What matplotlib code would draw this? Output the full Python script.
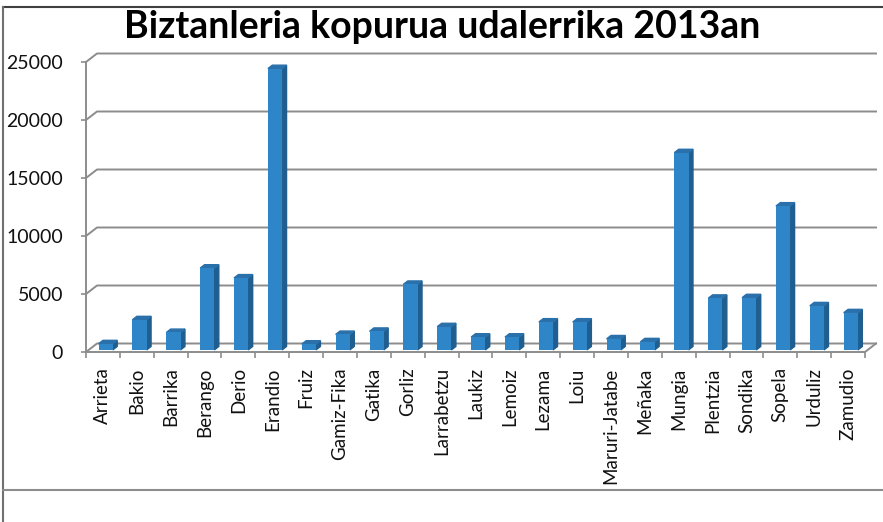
import matplotlib
matplotlib.use("Agg")
import matplotlib.pyplot as plt
from matplotlib.patches import Polygon
from matplotlib.lines import Line2D

# population per municipality, 2013
towns = ["Arrieta", "Bakio", "Barrika", "Berango", "Derio", "Erandio", "Fruiz",
         "Gamiz-Fika", "Gatika", "Gorliz", "Larrabetzu", "Laukiz", "Lemoiz",
         "Lezama", "Loiu", "Maruri-Jatabe", "Meñaka", "Mungia", "Plentzia",
         "Sondika", "Sopela", "Urduliz", "Zamudio"]
population = [530, 2600, 1500, 7050, 6200, 24250, 500,
              1330, 1600, 5650, 2000, 1100, 1100,
              2400, 2400, 950, 700, 17000, 4450,
              4500, 12400, 3800, 3200]
yticks = [0, 5000, 10000, 15000, 20000, 25000]

title = "Biztanleria kopurua udalerrika 2013an"
font = "Lato"

front_col = "#2E86C8"
side_col = "#1F5E8F"
top_col = "#2A70AA"
grid_col = "#8C8C8C"

W, H = 883, 522
fig = plt.figure(figsize=(W / 100, H / 100), dpi=100)

# plot area in pixels (front plane)
left, right, top, bottom = 86, 865, 62, 352
ax = fig.add_axes([left / W, 1 - bottom / H, (right - left) / W, (bottom - top) / H])

n = len(towns)
ax.set_xlim(-0.5, n - 0.5)
ax.set_ylim(0, 25000)

# depth offset of the 3d box, in data units
px_x = (right - left) / n
px_y = (bottom - top) / 25000
DX = 11 / px_x
DY = 8.5 / px_y

# back wall gridlines + side wall connectors
for v in yticks:
    ax.plot([-0.5, -0.5 + DX, n - 0.5 + DX], [v, v + DY, v + DY],
            color=grid_col, lw=1.4, clip_on=False, zorder=1)
# floor right edge
ax.plot([n - 0.5, n - 0.5 + DX], [0, DY], color=grid_col, lw=1.4, clip_on=False, zorder=1)

# bars (front face, side, top)
w = 0.42
f0, f1 = 0.25, 0.65
xs = list(range(n))
ax.bar([x + f0 * DX for x in xs], population, width=w, bottom=f0 * DY,
       color=front_col, zorder=3, clip_on=False)
for x, h in zip(xs, population):
    xl, xr = x - w / 2, x + w / 2
    side = [(xr + f0 * DX, f0 * DY), (xr + f1 * DX, f1 * DY),
            (xr + f1 * DX, h + f1 * DY), (xr + f0 * DX, h + f0 * DY)]
    topf = [(xl + f0 * DX, h + f0 * DY), (xr + f0 * DX, h + f0 * DY),
            (xr + f1 * DX, h + f1 * DY), (xl + f1 * DX, h + f1 * DY)]
    ax.add_patch(Polygon(side, closed=True, color=side_col, zorder=2, clip_on=False))
    ax.add_patch(Polygon(topf, closed=True, color=top_col, zorder=2, clip_on=False))

# axes
for s in ["top", "right"]:
    ax.spines[s].set_visible(False)
for s in ["left", "bottom"]:
    ax.spines[s].set_color(grid_col)
    ax.spines[s].set_linewidth(1.4)
ax.set_yticks(yticks)
ax.set_yticklabels([str(v) for v in yticks], fontsize=14, family=font, color="#111111")
ax.tick_params(axis="y", length=3.5, width=1.2, color=grid_col, pad=13)

ax.set_xticks([i - 0.5 for i in range(n + 1)])
ax.set_xticklabels([])
ax.tick_params(axis="x", which="major", length=4, width=1.2, color=grid_col)
ax.set_xticks(xs, minor=True)
ax.set_xticklabels(towns, minor=True, rotation=90, fontsize=13.5, family=font, color="#111111")
ax.tick_params(axis="x", which="minor", length=0, pad=11)

fig.text(442 / W, 1 - 27 / H, title, ha="center", va="center",
         fontsize=27, fontweight="bold", family=font)

# outer frame
fig.add_artist(Line2D([3 / W, 1], [1 - 7 / H, 1 - 7 / H], color="#404040", lw=1.5))
fig.add_artist(Line2D([3 / W, 3 / W], [0, 1 - 7 / H], color="#707070", lw=1.5))
fig.add_artist(Line2D([3 / W, 1], [1 - 490 / H, 1 - 490 / H], color=grid_col, lw=1.5))

fig.savefig("out.png", dpi=100)
